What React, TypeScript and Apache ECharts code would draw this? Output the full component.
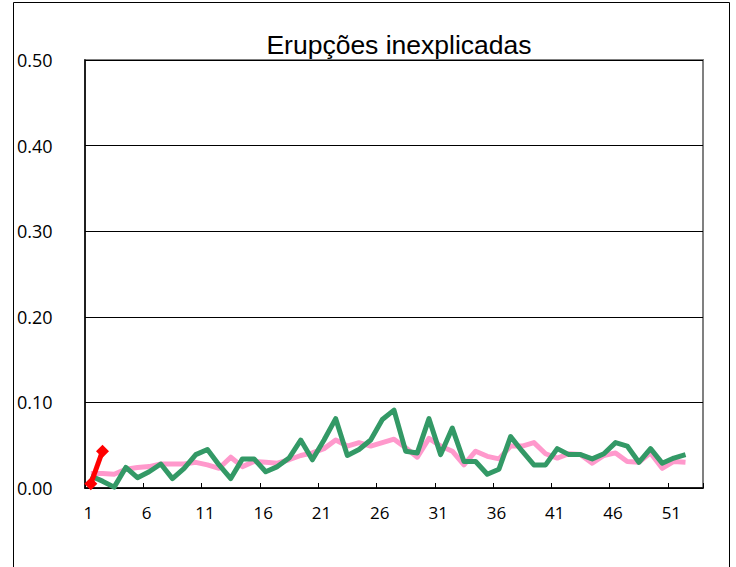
import React, { useEffect, useRef } from "react";
import * as echarts from "echarts";

const categories: string[] = Array.from({ length: 53 }, (_, i) => String(i + 1));

const pinkValues: number[] = [
  0.017, 0.017, 0.016, 0.022, 0.024, 0.025, 0.028, 0.028, 0.028, 0.030,
  0.027, 0.023, 0.036, 0.025, 0.031, 0.030, 0.029, 0.033, 0.038, 0.041,
  0.046, 0.056, 0.049, 0.053, 0.049, 0.053, 0.057, 0.047, 0.036, 0.058,
  0.049, 0.043, 0.027, 0.043, 0.037, 0.034, 0.049, 0.049, 0.053, 0.040,
  0.035, 0.040, 0.039, 0.029, 0.038, 0.041, 0.031, 0.030, 0.041, 0.023,
  0.031, 0.030,
];

const greenValues: number[] = [
  0.014, 0.008, 0.001, 0.024, 0.012, 0.019, 0.028, 0.011, 0.023, 0.039,
  0.045, 0.027, 0.011, 0.034, 0.034, 0.019, 0.025, 0.035, 0.056, 0.033,
  0.056, 0.081, 0.038, 0.045, 0.056, 0.080, 0.091, 0.043, 0.041, 0.081,
  0.039, 0.070, 0.031, 0.031, 0.016, 0.022, 0.060, 0.043, 0.027, 0.027,
  0.046, 0.039, 0.039, 0.034, 0.040, 0.053, 0.049, 0.030, 0.046, 0.029,
  0.035, 0.039,
];

const redValues: number[] = [0.005, 0.043];

const titleText = "Erupções inexplicadas";

export default function App() {
  const ref = useRef<HTMLDivElement>(null);
  useEffect(() => {
    if (!ref.current) return;
    const chart = echarts.init(ref.current, undefined, { renderer: "svg" });
    const labelFont = "Open Sans";
    chart.setOption({
      animation: false,
      backgroundColor: "#ffffff",
      title: {
        text: titleText,
        left: 394,
        top: 26,
        textAlign: "center",
        textStyle: {
          fontFamily: "Liberation Sans",
          fontSize: 26.5,
          fontWeight: "normal",
          color: "#000",
        },
      },
      graphic: [
        {
          type: "rect",
          shape: { x: 13.5, y: 2.5, width: 716, height: 700 },
          style: { fill: "none", stroke: "#000", lineWidth: 1 },
          silent: true,
        },
      ],
      grid: {
        left: 85,
        top: 60,
        width: 618,
        height: 428,
        show: true,
        borderColor: "#808080",
        borderWidth: 2,
        backgroundColor: "transparent",
      },
      xAxis: {
        type: "category",
        data: categories,
        boundaryGap: true,
        axisLine: { show: true, lineStyle: { color: "#000", width: 1.5 } },
        axisTick: {
          show: true,
          inside: true,
          length: 5,
          interval: 4,
          lineStyle: { color: "#000", width: 1 },
        },
        axisLabel: {
          interval: 4,
          margin: 16,
          fontFamily: labelFont,
          fontSize: 17,
          color: "#000",
          padding: [0, 5, 0, 0],
        },
        splitLine: { show: false },
      },
      yAxis: {
        type: "value",
        min: 0,
        max: 0.5,
        interval: 0.1,
        axisLine: { show: true, lineStyle: { color: "#000", width: 1.5 } },
        axisTick: { show: true, inside: true, length: 5, lineStyle: { color: "#000" } },
        axisLabel: {
          formatter: (v: number) => v.toFixed(2),
          align: "left",
          margin: 68,
          fontFamily: labelFont,
          fontSize: 18,
          color: "#000",
        },
        splitLine: { show: true, lineStyle: { color: "#000", width: 1 } },
      },
      series: [
        {
          type: "line",
          data: pinkValues,
          symbol: "none",
          lineStyle: { color: "#FF99CC", width: 5, join: "round" },
          z: 2,
        },
        {
          type: "line",
          data: greenValues,
          symbol: "none",
          lineStyle: { color: "#339966", width: 5, join: "round" },
          z: 3,
        },
        {
          type: "line",
          data: redValues,
          symbol: "diamond",
          symbolSize: 13,
          showSymbol: true,
          showAllSymbol: true,
          clip: false,
          itemStyle: { color: "#FF0000", borderColor: "#FF0000", borderWidth: 0 },
          lineStyle: { color: "#FF0000", width: 5 },
          z: 4,
        },
      ],
    });
    return () => chart.dispose();
  }, []);
  return (
    <div
      ref={ref}
      style={{ position: "absolute", left: 0, top: 0, width: 736, height: 567 }}
    />
  );
}
